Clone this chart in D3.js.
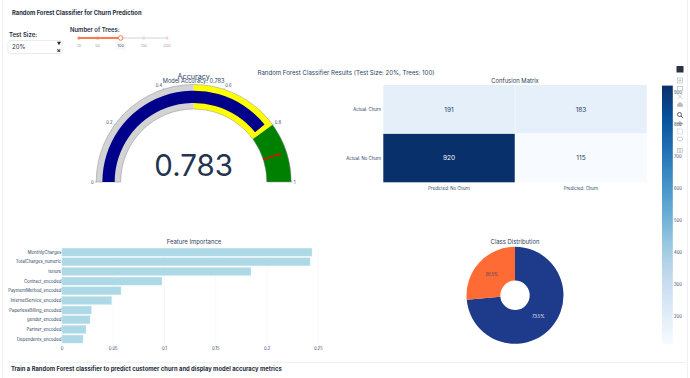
<!DOCTYPE html>
<html><head><meta charset="utf-8">
<script src="https://cdn.jsdelivr.net/npm/d3@7/dist/d3.min.js"></script>
<style>html,body{margin:0;padding:0;background:#fff}svg{display:block}text{font-family:Inter,"Open Sans",sans-serif}</style>
</head><body><svg id="c" width="690" height="378"></svg>
<script>
const features=["MonthlyCharges","TotalCharges_numeric","tenure","Contract_encoded","PaymentMethod_encoded","InternetService_encoded","PaperlessBilling_encoded","gender_encoded","Partner_encoded","Dependents_encoded"];
const importance=[0.2438,0.2419,0.1843,0.0975,0.0575,0.0484,0.0286,0.0273,0.0234,0.0205];
const importanceTicks=[0,0.05,0.1,0.15,0.2,0.25];
const actualLabels=["Actual: Churn","Actual: No Churn"];
const predictedLabels=["Predicted: No Churn","Predicted: Churn"];
const confusionChurn=[191,183];
const confusionNoChurn=[920,115];
const colorbarTicks=[200,300,400,500,600,700,800,900];
const blues=["#f7fbff","#deebf7","#c6dbef","#9ecae1","#6baed6","#4292c6","#2171b5","#08519c","#08306b"];
const classNames=["No Churn","Churn"];
const classShares=[73.5,26.5];
const classColors=["#1e3a8a","#ff6b35"];
const accuracy=0.783;
const gaugeSteps=[[0,0.5,"#d3d3d3"],[0.5,0.8,"#ffff00"],[0.8,1,"#008000"]];
const gaugeThreshold=0.9;
const gaugeTicks=[0,0.2,0.4,0.6,0.8,1];
const treeMarks=[10,50,100,150,200];
const treeValue=100;

const svg=d3.select("#c");
const ink="#2a3f5f", dark="#1f2d3d";
const txt=(x,y,s,size,opt={})=>svg.append("text").attr("x",x).attr("y",y).text(s).attr("font-size",size)
  .attr("fill",opt.fill||ink).attr("text-anchor",opt.anchor||"start").attr("font-weight",opt.weight||400);

// page frame
svg.append("line").attr("x1",2.5).attr("x2",2.5).attr("y1",0).attr("y2",378).attr("stroke","#eef0f4");
svg.append("line").attr("x1",687.5).attr("x2",687.5).attr("y1",0).attr("y2",378).attr("stroke","#eef0f4");
svg.append("line").attr("x1",7).attr("x2",685).attr("y1",362.5).attr("y2",362.5).attr("stroke","#eef0f4");

txt(12,14.6,"Random Forest Classifier for Churn Prediction",5.8,{weight:700,fill:dark});
txt(11,370.5,"Train a Random Forest classifier to predict customer churn and display model accuracy metrics",5.85,{weight:700,fill:dark});

// controls
txt(9,36.5,"Test Size:",6,{weight:600,fill:dark});
svg.append("rect").attr("x",8).attr("y",40.5).attr("width",54).attr("height",13).attr("rx",2).attr("fill","#fff").attr("stroke","#e8ebf0");
txt(12,49,"20%",6.1,{fill:dark});
svg.append("path").attr("d",d3.symbol(d3.symbolTriangle,7)()).attr("transform","translate(59,43) rotate(180)").attr("fill",dark);
txt(58.7,52.5,"×",6.5,{anchor:"middle",fill:dark,weight:700});
txt(70,32,"Number of Trees:",5.9,{weight:600,fill:dark});
const tx=d3.scaleLinear().domain([10,200]).range([79,167]);
svg.append("line").attr("x1",tx(10)).attr("x2",tx(200)).attr("y1",38).attr("y2",38).attr("stroke","#e9e9ec").attr("stroke-width",2);
svg.append("line").attr("x1",tx(10)).attr("x2",tx(treeValue)).attr("y1",38).attr("y2",38).attr("stroke","#ff7a50").attr("stroke-width",2);
svg.append("rect").attr("x",tx(treeValue)-5).attr("y",42).attr("width",10).attr("height",8).attr("rx",2).attr("fill","#f6f7f9");
treeMarks.forEach(m=>{
  svg.append("circle").attr("cx",tx(m)).attr("cy",38).attr("r",1.6).attr("fill",m<=treeValue?"#ff7a50":"#ffd0c0");
  txt(tx(m),46.5,m,3.9,{anchor:"middle",fill:m==treeValue?"#555c66":"#a0a4aa"});
});
svg.append("circle").attr("cx",tx(treeValue)).attr("cy",38).attr("r",2.3).attr("fill","#fff").attr("stroke","#ff7a50").attr("stroke-width",1);

txt(346,74.5,"Random Forest Classifier Results (Test Size: 20%, Trees: 100)",6.1,{anchor:"middle"});

// gauge
const gx=193.7, gy=182;
const ga=d3.scaleLinear().domain([0,1]).range([-Math.PI/2,Math.PI/2]);
const g=svg.append("g").attr("transform",`translate(${gx},${gy})`);
const arc=d3.arc();
gaugeSteps.forEach(s=>g.append("path").attr("d",arc({innerRadius:73,outerRadius:97.5,startAngle:ga(s[0]),endAngle:ga(s[1])})).attr("fill",s[2]));
g.append("path").attr("d",arc({innerRadius:73,outerRadius:97.5,startAngle:ga(0),endAngle:ga(1)})).attr("fill","none").attr("stroke","#8a8f96").attr("stroke-width",.5);
g.append("path").attr("d",arc({innerRadius:79,outerRadius:91.3,startAngle:ga(0),endAngle:ga(accuracy)})).attr("fill","#00008b");
const ta=ga(gaugeThreshold);
g.append("line").attr("x1",73*Math.sin(ta)).attr("y1",-73*Math.cos(ta)).attr("x2",92*Math.sin(ta)).attr("y2",-92*Math.cos(ta)).attr("stroke","#ff0000").attr("stroke-width",1.3);
gaugeTicks.forEach(t=>{
  const a=ga(t), R=99;
  g.append("line").attr("x1",97.5*Math.sin(a)).attr("y1",-97.5*Math.cos(a)).attr("x2",R*Math.sin(a)).attr("y2",-R*Math.cos(a)).attr("stroke","#8a8f96").attr("stroke-width",.5);
  g.append("text").attr("x",(t<.5?-1:1)+R*Math.sin(a)).attr("y",-101*Math.cos(a)+1.5).text(t).attr("font-size",4.2).attr("fill",ink).attr("text-anchor",t<.5?"end":"start");
});
txt(gx,176,accuracy,29.5,{anchor:"middle",fill:"#22344f"});
txt(gx,79,"Accuracy",7.2,{anchor:"middle"});
txt(gx,82.5,"Model Accuracy: "+accuracy,5.65,{anchor:"middle"});

// heatmap
const matrix=[confusionChurn,confusionNoChurn];
const hx=d3.scaleBand().domain(predictedLabels).range([383.3,646.7]).paddingInner(.004);
const hy=d3.scaleBand().domain(actualLabels).range([85,182.3]).paddingInner(.008);
const cDomain=d3.scaleLinear().domain([0,blues.length-1]).range([115,920]);
const col=d3.scaleLinear().domain(blues.map((_,i)=>cDomain(i))).range(blues);
actualLabels.forEach((r,i)=>predictedLabels.forEach((c,j)=>{
  const v=matrix[i][j];
  svg.append("rect").attr("x",hx(c)).attr("y",hy(r)).attr("width",hx.bandwidth()).attr("height",hy.bandwidth()).attr("fill",col(v));
  txt(hx(c)+hx.bandwidth()/2,hy(r)+hy.bandwidth()/2+2.3,v,6.5,{anchor:"middle",fill:v>500?"#fff":ink});
}));
actualLabels.forEach(r=>txt(381,hy(r)+hy.bandwidth()/2+1.5,r,4.3,{anchor:"end"}));
predictedLabels.forEach(c=>txt(hx(c)+hx.bandwidth()/2,189.7,c,4.3,{anchor:"middle"}));
txt(515,82.7,"Confusion Matrix",5.9,{anchor:"middle"});

// colorbar
const defs=svg.append("defs");
const lg=defs.append("linearGradient").attr("id","cb").attr("x1",0).attr("x2",0).attr("y1",1).attr("y2",0);
blues.forEach((b,i)=>lg.append("stop").attr("offset",i/(blues.length-1)).attr("stop-color",b));
const cy=d3.scaleLinear().domain([115,920]).range([344,85.6]);
svg.append("rect").attr("x",662).attr("y",cy(920)).attr("width",10.8).attr("height",cy(115)-cy(920)).attr("fill","url(#cb)");
colorbarTicks.forEach(t=>txt(674,cy(t)+1.5,t,4.2,{}));

// feature importance
const bx=d3.scaleLinear().domain([0,0.25]).range([62,318.3]);
const by=d3.scaleBand().domain(features).range([247.6,343.6]).paddingInner(.18).paddingOuter(.06);
importanceTicks.forEach(t=>svg.append("line").attr("x1",bx(t)).attr("x2",bx(t)).attr("y1",247).attr("y2",345).attr("stroke","#f0f3f7").attr("stroke-width",.6));
features.forEach((f,i)=>{
  svg.append("rect").attr("x",bx(0)).attr("y",by(f)).attr("width",bx(importance[i])-bx(0)).attr("height",by.bandwidth()).attr("fill","#add8e6").attr("stroke","#c9e5ee").attr("stroke-width",.4);
  txt(61.3,by(f)+by.bandwidth()/2+1.5,f,4.3,{anchor:"end"});
});
importanceTicks.forEach(t=>txt(bx(t),349.7,t,4.2,{anchor:"middle"}));
txt(194,244,"Feature Importance",5.9,{anchor:"middle"});

// donut
const pie=d3.pie().sort(null)(classShares);
const dg=svg.append("g").attr("transform","translate(515,295.3)");
const da=d3.arc().innerRadius(14.7).outerRadius(48.5);
pie.forEach((p,i)=>{
  dg.append("path").attr("d",da(p)).attr("fill",classColors[i]);
  const c=d3.arc().innerRadius(31.4).outerRadius(31.4).centroid(p);
  dg.append("text").attr("x",c[0]).attr("y",c[1]+1.5).text(classShares[i].toFixed(1)+"%").attr("font-size",4.2).attr("text-anchor","middle").attr("fill",i==0?"#fff":ink);
});
txt(515,244,"Class Distribution",5.9,{anchor:"middle"});

// modebar
const mb=svg.append("g").attr("fill","none").attr("stroke","#b8bcc2").attr("stroke-width",.7);
const mx=680;
mb.append("rect").attr("x",mx-3.5).attr("y",66).attr("width",7).attr("height",6.5).attr("fill","#2a3440").attr("stroke","none");
mb.append("rect").attr("x",mx-2.5).attr("y",78).attr("width",5).attr("height",5);
mb.append("path").attr("d",`M${mx-1.5} 80.5H${mx+1.5}M${mx} 79V82`);
mb.append("rect").attr("x",mx-2.5).attr("y",86.5).attr("width",5).attr("height",4.5);
mb.append("path").attr("d",`M${mx-2.5} 94L${mx+2.5} 99M${mx+2.5} 94L${mx-2.5} 99`);
mb.append("path").attr("d",`M${mx-2.5} 104.5L${mx} 102L${mx+2.5} 104.5V106.5H${mx-2.5}Z`).attr("fill","#b8bcc2");
mb.append("circle").attr("cx",mx-.5).attr("cy",114.5).attr("r",2).attr("stroke","#555c66").attr("stroke-width",1);
mb.append("path").attr("d",`M${mx+1} 116L${mx+3} 118`).attr("stroke","#555c66").attr("stroke-width",1);
mb.append("path").attr("d",`M${mx-3} 123.5H${mx+3}M${mx} 121V126`).attr("stroke","#777d86");
mb.append("rect").attr("x",mx-2.5).attr("y",129).attr("width",5).attr("height",5).attr("stroke-dasharray","1 .7");
mb.append("ellipse").attr("cx",mx).attr("cy",139).attr("rx",2.8).attr("ry",2);
mb.append("rect").attr("x",mx-2.5).attr("y",148.5).attr("width",5).attr("height",4);
mb.append("circle").attr("cx",mx).attr("cy",150.5).attr("r",1.1);
</script></body></html>
